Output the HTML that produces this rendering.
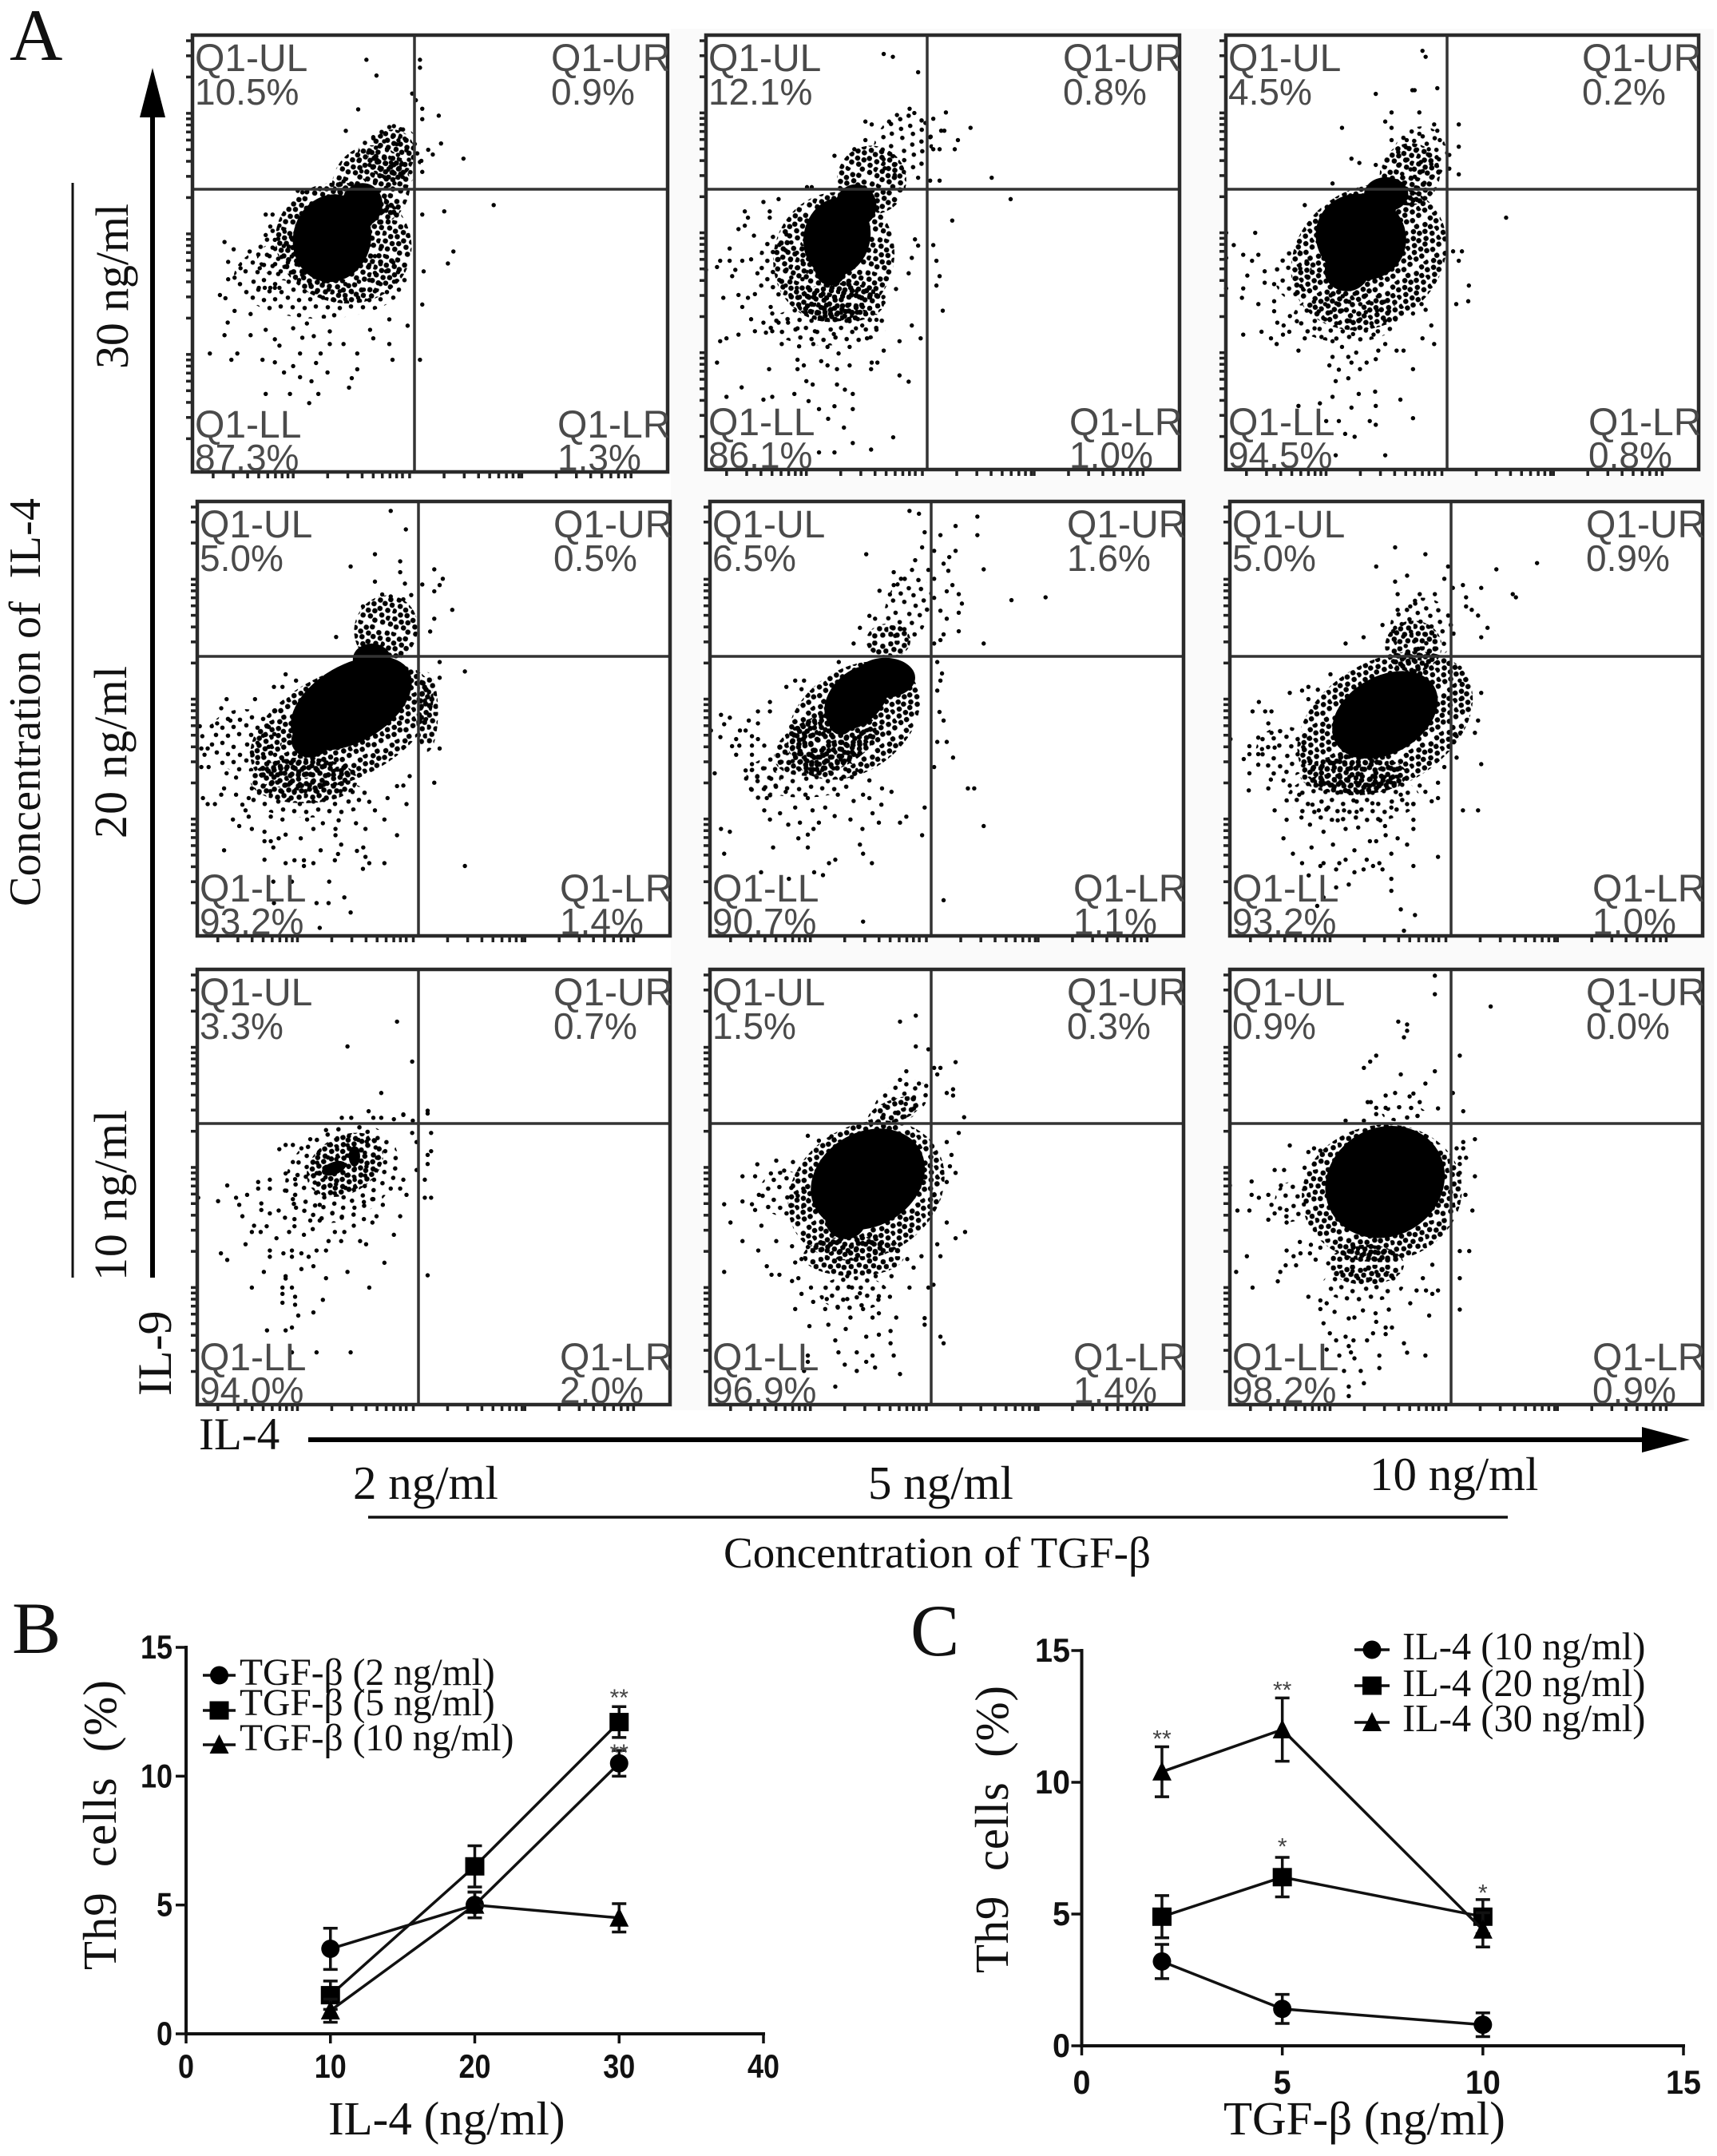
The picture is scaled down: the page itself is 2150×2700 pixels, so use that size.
<!DOCTYPE html>
<html lang="en">
<head>
<meta charset="utf-8">
<title>IL-4 and TGF-β induced Th9 cells</title>
<style>
html,body{margin:0;padding:0;background:#fff;}
svg{display:block;}
.serif{font-family:"Liberation Serif",serif;fill:#111;}
.sans{font-family:"Liberation Sans",sans-serif;}
</style>
</head>
<body>
<svg id="fig" xmlns="http://www.w3.org/2000/svg" width="2150" height="2700" viewBox="0 0 2150 2700">
<defs>
<pattern id="stipple-dense" patternUnits="userSpaceOnUse" width="44" height="44">
<g fill="#000">
<circle cx="3" cy="4" r="3.3"/><circle cx="11" cy="2" r="3.3"/><circle cx="20" cy="6" r="3.3"/><circle cx="27" cy="3" r="3.3"/><circle cx="37" cy="7" r="3.3"/>
<circle cx="7" cy="11" r="3.3"/><circle cx="15" cy="13" r="3.3"/><circle cx="25" cy="12" r="3.3"/><circle cx="32" cy="14" r="3.3"/><circle cx="41" cy="13" r="3.3"/>
<circle cx="2" cy="19" r="3.3"/><circle cx="11" cy="21" r="3.3"/><circle cx="19" cy="19" r="3.3"/><circle cx="28" cy="22" r="3.3"/><circle cx="38" cy="21" r="3.3"/>
<circle cx="6" cy="28" r="3.3"/><circle cx="15" cy="29" r="3.3"/><circle cx="23" cy="27" r="3.3"/><circle cx="33" cy="29" r="3.3"/><circle cx="42" cy="30" r="3.3"/>
<circle cx="3" cy="36" r="3.3"/><circle cx="11" cy="37" r="3.3"/><circle cx="20" cy="35" r="3.3"/><circle cx="27" cy="38" r="3.3"/><circle cx="37" cy="37" r="3.3"/>
</g>
</pattern>
<pattern id="stipple-sparse" patternUnits="userSpaceOnUse" width="44" height="44">
<g fill="#000">
<circle cx="4" cy="5" r="2.8"/><circle cx="17" cy="3" r="2.8"/><circle cx="31" cy="8" r="2.8"/>
<circle cx="10" cy="15" r="2.8"/><circle cx="24" cy="17" r="2.8"/><circle cx="39" cy="18" r="2.8"/>
<circle cx="3" cy="25" r="2.8"/><circle cx="17" cy="28" r="2.8"/><circle cx="31" cy="27" r="2.8"/>
<circle cx="9" cy="37" r="2.8"/><circle cx="24" cy="38" r="2.8"/><circle cx="38" cy="36" r="2.8"/>
</g>
</pattern>
</defs>

<rect x="0" y="0" width="2150" height="2700" fill="#ffffff"/>
<rect x="840" y="36" width="1306" height="1730" fill="#fafafa"/>

<text class="serif" x="12" y="75" font-size="92">A</text>
<text class="serif" x="15" y="2070" font-size="92">B</text>
<text class="serif" x="1140" y="2073" font-size="92">C</text>

<g id="flow-panels"></g>

<line x1="191" y1="140" x2="191" y2="1600" stroke="#000" stroke-width="6"/>
<polygon points="191,85 175,147 207,147" fill="#000"/>
<line x1="91" y1="229" x2="91" y2="1600" stroke="#111" stroke-width="3"/>

<text class="serif" transform="translate(160,462) rotate(-90)" font-size="58" textLength="207">30 ng/ml</text>
<text class="serif" transform="translate(158,1050) rotate(-90)" font-size="58" textLength="216">20 ng/ml</text>
<text class="serif" transform="translate(158,1604) rotate(-90)" font-size="58" textLength="214">10 ng/ml</text>
<text class="serif" transform="translate(50,1135) rotate(-90)" font-size="56" textLength="511" xml:space="preserve">Concentration of  IL-4</text>
<text class="serif" transform="translate(214,1748) rotate(-90)" font-size="60">IL-9</text>

<text class="serif" x="249" y="1815" font-size="57">IL-4</text>
<line x1="386" y1="1803" x2="2060" y2="1803" stroke="#000" stroke-width="6"/>
<polygon points="2116,1803 2056,1787 2056,1819" fill="#000"/>

<text class="serif" x="442" y="1877" font-size="59">2 ng/ml</text>
<text class="serif" x="1087" y="1877" font-size="59">5 ng/ml</text>
<text class="serif" x="1715" y="1866" font-size="59">10 ng/ml</text>
<line x1="461" y1="1900" x2="1888" y2="1900" stroke="#111" stroke-width="3.5"/>
<text class="serif" x="906" y="1963" font-size="55" textLength="535">Concentration of TGF-β</text>

<g id="chart-b"></g>
<g id="chart-c"></g>

<text class="serif" transform="translate(145,2467) rotate(-90)" font-size="59" textLength="363" xml:space="preserve">Th9  cells  (%)</text>
<text class="serif" x="411" y="2673" font-size="59">IL-4 (ng/ml)</text>
<text class="serif" transform="translate(1262,2471) rotate(-90)" font-size="59" textLength="360" xml:space="preserve">Th9  cells  (%)</text>
<text class="serif" x="1532" y="2673" font-size="59">TGF-β (ng/ml)</text>
</svg>

<script>
/* ===== Flow cytometry dot plots: values, in plot channel units ===== */
const pointsR1C1=[[800,190],[822,240],[917,190],[917,215],[900,297],[908,318],[922,345],[922,378],[958,367],[782,347],[755,415],[815,435],[963,455],[1012,503],[945,490],[935,475],[920,510],[922,545],[1078,650],[970,670],[922,680],[990,797],[978,835],[925,860],[922,965],[890,1032],[917,1140],[857,1140],[850,1090],[850,1012],[780,1120],[780,1170],[768,1198],[762,1228],[695,1248],[675,1277],[633,1248],[580,1248],[655,1195],[680,1208],[715,1180],[620,1180],[640,1160],[690,1150],[655,1120],[700,1120],[600,1148],[573,1140],[505,1140],[518,1120],[458,1120],[490,1062],[547,1062],[580,1045],[497,1022],[547,995],[512,985],[480,935],[492,945],[512,880],[498,885],[525,850],[498,830],[490,767],[510,790],[545,797],[567,850],[580,680],[595,680],[590,718],[610,715],[580,745],[600,760],[600,1075],[610,1095],[660,1070],[685,1065],[720,1050],[720,1090],[750,1090],[815,1072],[808,1045],[670,1025],[640,1040],[565,912],[578,912],[590,912],[600,912],[610,912],[755,520],[750,575],[860,400],[875,410],[870,445],[650,605],[660,610]];
const coresR1C1=[[725,755,85,140,15],[790,650,45,70,15]];
const denseR1C1=[[750,770,150,190,15],[810,590,85,130,20],[855,490,50,80,20]];
const sparseR1C1=[[700,880,190,130,0],[850,500,70,110,20],[630,800,70,90,0]];

const pointsR1C2=[[598,78],[627,88],[707,142],[795,283],[873,337],[833,380],[823,412],[775,412],[755,412],[755,305],[730,320],[680,270],[695,285],[640,292],[615,315],[540,315],[560,325],[780,347],[790,347],[745,370],[442,435],[505,412],[540,380],[940,512],[1000,587],[815,662],[775,522],[745,522],[707,512],[755,748],[707,750],[697,728],[765,803],[775,857],[765,890],[785,978],[687,793],[677,847],[637,902],[687,1030],[715,1075],[648,1085],[598,1118],[648,1205],[677,1227],[628,1422],[500,1442],[558,1465],[442,1475],[393,1475],[472,1388],[422,1357],[500,1323],[442,1313],[393,1323],[360,1295],[500,1270],[475,1255],[450,1237],[373,1237],[353,1225],[315,1270],[245,1280],[217,1290],[100,1280],[148,1247],[235,1183],[70,1160],[325,1150],[325,1183],[345,1170],[400,1155],[420,1170],[450,1183],[490,1170],[560,1160],[578,1160],[558,1183],[455,1128],[490,1105],[420,1105],[330,1103],[375,1095],[275,1095],[245,1050],[190,1050],[225,1055],[138,1062],[100,1075],[80,1085],[178,1008],[217,1020],[265,1020],[295,1020],[90,933],[138,923],[150,965],[168,933],[190,920],[210,890],[240,965],[245,988],[118,857],[128,835],[70,825],[35,835],[80,803],[110,803],[150,803],[178,798],[198,847],[110,760],[187,715],[138,692],[158,680],[168,652],[158,630],[237,630],[237,652],[217,597],[265,587],[355,545],[370,545],[545,1075],[575,1045],[510,1040],[440,1060],[380,1050],[325,1040],[530,1030],[490,1015],[575,1010],[597,950],[597,930]];
const coresR1C2=[[450,720,105,140,15],[510,610,65,75,0],[430,830,50,60,0]];
const denseR1C2=[[440,790,190,230,20],[560,520,110,120,30],[460,950,140,70,0]];
const sparseR1C2=[[660,400,90,120,30],[420,1030,190,70,0],[280,820,80,120,0]];

const pointsR1C3=[[660,67],[670,88],[707,198],[635,205],[628,205],[512,218],[562,283],[650,283],[542,315],[562,337],[405,337],[697,325],[775,325],[707,347],[650,358],[562,380],[610,380],[715,380],[775,403],[680,412],[705,440],[745,432],[435,445],[460,460],[512,467],[775,500],[745,480],[375,532],[287,608],[925,652],[130,705],[38,705],[62,748],[92,782],[140,782],[120,803],[38,793],[160,840],[105,855],[160,880],[190,885],[92,900],[38,900],[88,933],[140,955],[190,945],[190,980],[200,1020],[240,997],[262,1015],[220,1030],[150,1052],[92,1062],[180,1075],[198,1095],[238,1052],[218,1062],[287,1075],[267,1118],[318,1040],[340,1070],[375,1085],[405,1105],[440,1060],[505,1062],[542,1095],[520,1118],[578,1118],[600,1118],[660,1075],[697,1095],[688,1030],[630,988],[670,975],[657,955],[767,955],[805,945],[807,890],[775,803],[757,770],[785,770],[630,1183],[512,1148],[483,1160],[462,1183],[435,1160],[395,1185],[385,1225],[425,1215],[365,1170],[375,1140],[425,1140],[450,1125],[375,1280],[458,1270],[510,1262],[590,1290],[512,1312],[435,1318],[335,1303],[267,1312],[630,1355],[493,1365],[512,1378],[395,1365],[355,1365],[415,1410],[445,1420],[385,1485],[542,1485]];
const coresR1C3=[[465,720,145,150,25],[545,570,70,60,0],[420,840,70,70,0]];
const denseR1C3=[[490,790,260,240,-35],[620,500,95,110,20]];
const sparseR1C3=[[650,440,85,110,20],[420,1000,170,90,0],[250,850,60,90,0]];

const pointsR2C1=[[655,55],[703,120],[605,207],[528,250],[685,232],[685,270],[793,260],[820,293],[810,315],[605,303],[700,310],[755,313],[793,337],[850,402],[793,433],[780,478],[890,618],[810,585],[810,640],[793,1008],[810,888],[890,1300],[675,1192],[705,1083],[675,1020],[695,1018],[715,985],[635,1137],[645,1062],[605,1105],[587,1075],[575,1170],[545,1150],[490,1140],[440,1150],[410,1170],[390,1137],[312,1137],[275,1127],[205,1127],[155,1137],[175,1160],[215,1170],[255,1180],[322,1190],[300,1203],[255,1213],[275,1213],[283,1235],[370,1203],[480,1170],[480,1192],[498,1225],[433,1245],[488,1258],[478,1280],[548,1247],[568,1235],[575,1268],[587,1290],[567,1310],[635,1290],[410,1290],[380,1280],[380,1300],[350,1280],[322,1290],[255,1278],[127,1245],[460,1355],[508,1410],[458,1430],[420,1430],[528,1463],[430,1517],[283,1355],[342,1355],[285,1430],[60,1062],[75,1083],[98,1083],[118,1050],[127,1028],[165,1050],[185,1085],[195,1105],[205,1062],[215,1028],[135,715],[225,715],[118,747],[147,790],[50,810],[88,810],[105,800],[58,845],[55,888],[75,888],[65,910],[55,953],[78,953],[135,975],[165,990],[322,628],[285,672],[312,672],[355,650],[482,497],[567,390],[628,348],[655,355],[695,365],[720,350]];
const coresR2C1=[[530,730,210,135,-30],[595,575,60,55,0],[400,860,60,60,0]];
const denseR2C1=[[500,810,310,190,-25],[640,470,100,120,20],[770,760,35,140,0],[380,1000,170,80,0]];
const sparseR2C1=[[400,1060,190,70,0],[190,860,120,110,0]];

const pointsR2C2=[[667,55],[697,65],[882,75],[813,108],[715,130],[765,140],[882,140],[707,183],[745,195],[813,195],[793,217],[530,207],[685,228],[775,240],[790,265],[902,260],[617,270],[675,262],[727,262],[745,293],[640,293],[617,315],[803,315],[785,337],[823,347],[833,380],[990,368],[1098,358],[572,335],[605,348],[745,360],[765,405],[823,412],[785,433],[540,423],[558,433],[510,465],[823,477],[775,488],[765,508],[745,520],[902,520],[490,520],[755,585],[770,625],[765,650],[755,685],[443,585],[333,650],[305,650],[277,672],[325,680],[225,725],[225,758],[187,758],[70,770],[98,780],[80,803],[158,790],[187,800],[130,825],[148,825],[38,825],[68,848],[118,855],[168,845],[187,855],[128,878],[105,880],[118,910],[168,878],[207,878],[168,910],[50,975],[148,965],[168,943],[775,790],[762,760],[755,865],[785,865],[805,920],[745,953],[852,1028],[872,1028],[715,1095],[902,1160],[707,1192],[657,1127],[637,1148],[570,1148],[578,1085],[550,1115],[518,1170],[510,1225],[520,1257],[548,1290],[432,1278],[412,1290],[345,1235],[235,1235],[80,1257],[70,1170],[98,1180],[315,1203],[345,1190],[363,1170],[283,1155],[320,1148],[380,1148],[225,1137],[207,1105],[257,1115],[305,1095],[360,1105],[400,1095],[430,1125],[480,1137],[490,1072],[540,1062],[610,1040],[580,1028],[540,1000],[520,1050],[440,1050],[345,1062],[275,1040],[215,1062],[165,1030],[185,985],[365,1322],[393,1332],[197,1322],[285,1345],[775,1420],[520,1495]];
const coresR2C2=[[500,710,120,90,-45],[590,640,95,70,0],[450,790,40,50,0]];
const denseR2C2=[[490,790,230,180,-35],[600,510,70,60,0],[400,870,170,100,-20]];
const sparseR2C2=[[660,400,70,130,15],[330,980,180,80,0],[200,1010,60,60,0]];

const pointsR2C3=[[562,183],[658,207],[502,250],[600,282],[730,250],[883,260],[1012,238],[562,303],[718,293],[777,315],[745,325],[835,325],[570,347],[640,347],[688,347],[935,347],[945,358],[787,358],[570,402],[610,390],[625,370],[787,390],[805,402],[825,422],[855,465],[835,498],[522,455],[462,498],[405,520],[562,465],[767,605],[767,650],[835,693],[770,715],[777,758],[825,790],[815,833],[757,845],[757,920],[835,943],[718,953],[777,1105],[825,1105],[698,1008],[698,1062],[678,1073],[620,1083],[600,1083],[658,1040],[640,1018],[620,1138],[620,1170],[570,1203],[600,1225],[698,1268],[620,1300],[550,1257],[522,1312],[492,1300],[512,1290],[472,1278],[462,1312],[433,1322],[405,1278],[385,1290],[375,1312],[335,1290],[325,1300],[267,1290],[238,1257],[297,1235],[365,1225],[433,1245],[482,1213],[502,1213],[532,1192],[208,1203],[335,1180],[218,1138],[265,1130],[292,1155],[180,1105],[218,1070],[258,1050],[160,1028],[98,1035],[168,997],[100,975],[208,1000],[228,1018],[128,945],[82,925],[128,908],[100,908],[140,890],[100,880],[128,850],[170,833],[160,800],[40,855],[180,885],[110,758],[150,758],[170,758],[130,725],[228,693],[267,685],[287,715],[287,672],[317,682],[357,628],[550,1345],[550,1387],[415,1365],[375,1375],[288,1333],[580,1452],[625,1472],[590,1527],[315,1440],[335,1410],[445,1165],[405,1170],[380,1140],[345,1100],[400,1105],[440,1110],[515,1140],[530,1160],[580,1050],[550,1095],[490,1080],[430,1070],[300,1085],[320,1105],[350,1095]];
const coresR2C3=[[530,770,180,135,-30],[500,870,50,50,0]];
const denseR2C3=[[530,800,300,220,-30],[620,530,90,90,0],[430,980,170,70,0]];
const sparseR2C3=[[650,470,105,110,20],[430,1060,210,90,0],[210,900,90,90,0]];

const pointsR3C1=[[675,208],[518,295],[723,348],[625,458],[772,520],[772,530],[695,533],[783,598],[723,598],[737,630],[783,662],[772,675],[772,707],[737,728],[763,762],[783,825],[763,825],[705,815],[685,793],[695,762],[655,793],[685,890],[665,955],[597,912],[577,988],[558,977],[538,923],[508,945],[478,945],[498,977],[458,977],[408,935],[380,955],[333,945],[293,967],[262,925],[222,923],[215,945],[243,945],[195,988],[185,890],[175,850],[165,825],[200,815],[108,837],[45,825],[137,782],[235,770],[272,762],[235,793],[272,793],[245,845],[245,868],[272,880],[117,1020],[137,1043],[272,1010],[272,1032],[315,1020],[342,1010],[342,1032],[372,1020],[395,1032],[420,1010],[450,1010],[410,1065],[372,1075],[253,1085],[322,1100],[322,1108],[450,1107],[518,1085],[635,1053],[772,1097],[587,1140],[215,1140],[312,1140],[342,1140],[312,1162],[352,1172],[352,1200],[312,1193],[440,1183],[410,1227],[362,1238],[342,1280],[322,1290],[263,1290],[420,1367],[528,1367],[342,1367],[302,655],[322,640],[345,640],[372,652],[400,620],[322,740],[345,700],[450,588],[500,545],[530,545],[585,522],[600,545],[625,545],[665,550],[695,535],[725,555],[352,760],[320,800],[345,830],[355,860],[300,870],[320,895],[350,900],[350,925],[400,905],[430,905],[470,880],[500,895],[540,860],[570,840],[600,830],[630,850],[570,900],[610,890],[430,850]];
const coresR3C1=[[475,722,40,22,-20],[540,680,18,36,0]];
const denseR3C1=[[510,710,130,100,-30]];
const sparseR3C1=[[500,740,190,160,-30]];

const pointsR3C2=[[687,187],[637,208],[687,295],[727,305],[813,350],[745,370],[765,370],[755,393],[657,382],[637,412],[805,445],[785,458],[805,467],[697,425],[720,433],[840,543],[823,598],[785,630],[800,675],[785,770],[813,738],[795,715],[785,912],[843,945],[813,967],[755,988],[765,1030],[743,1130],[727,1140],[667,1140],[715,1247],[715,1270],[765,1312],[775,1335],[637,1443],[617,1378],[607,1335],[607,1292],[570,1305],[530,1312],[550,1378],[530,1400],[500,1367],[558,1420],[500,1432],[462,1410],[442,1367],[432,1325],[432,1487],[345,1400],[345,1378],[333,1432],[350,1275],[410,1270],[305,1215],[362,1190],[325,1162],[405,1180],[400,1215],[440,1210],[470,1180],[480,1245],[465,1285],[520,1215],[550,1245],[570,1230],[625,1245],[605,1172],[570,1170],[510,1160],[440,1140],[485,1140],[355,1140],[295,1117],[315,1107],[230,1095],[255,1095],[215,1065],[305,1052],[325,1040],[80,1085],[188,1010],[138,977],[245,977],[295,995],[345,998],[198,923],[100,912],[80,848],[138,838],[178,868],[168,848],[190,815],[138,750],[178,750],[185,708],[228,740],[245,695],[270,730],[298,700],[345,608],[380,625],[420,610],[660,1040],[680,1070],[705,1030],[470,1100],[560,1100],[610,1100]];
const coresR3C2=[[535,760,190,165,-30],[465,900,65,70,0]];
const denseR3C2=[[530,800,260,230,-30],[490,1030,160,70,0],[620,520,90,40,-20]];
const sparseR3C2=[[640,490,95,65,-30],[270,810,80,80,0],[490,1160,110,60,0]];

const pointsR3C3=[[688,47],[688,112],[865,155],[572,208],[600,218],[600,240],[590,263],[767,327],[502,327],[483,348],[463,370],[580,393],[688,382],[658,425],[745,458],[562,458],[532,467],[620,460],[608,470],[475,490],[485,490],[640,490],[502,510],[502,532],[532,510],[698,512],[778,522],[405,555],[463,555],[815,620],[778,630],[757,652],[778,652],[767,685],[787,685],[767,707],[228,642],[287,665],[305,652],[325,660],[815,750],[767,738],[180,728],[210,728],[275,720],[107,768],[38,782],[200,782],[107,815],[130,825],[160,815],[170,850],[62,870],[100,870],[180,880],[160,902],[218,868],[218,912],[807,870],[785,815],[767,1012],[797,1012],[767,1107],[767,1217],[670,1238],[610,1195],[698,1150],[680,1162],[660,1150],[630,1150],[650,1107],[680,1060],[542,1217],[500,1230],[502,1260],[492,1300],[532,1280],[552,1280],[532,1303],[590,1335],[600,1368],[658,1378],[512,1378],[512,1422],[453,1432],[400,1432],[433,1388],[422,1367],[415,1345],[405,1312],[430,1325],[473,1325],[375,1325],[355,1300],[335,1265],[345,1357],[385,1378],[463,1475],[415,1487],[415,1520],[433,1245],[415,1248],[460,1220],[325,1185],[345,1195],[325,1215],[370,1225],[287,1172],[110,1140],[190,1118],[198,1085],[58,1085],[92,1030],[218,1010],[240,1030],[262,1020],[292,1020],[310,1042],[350,1055],[215,1062],[248,1062],[260,980],[295,990],[325,1000]];
const coresR3C3=[[530,770,195,190,-30]];
const denseR3C3=[[520,810,255,240,-10],[470,1060,120,70,0]];
const sparseR3C3=[[460,1130,130,60,0],[590,530,70,30,0],[230,840,50,70,0]];

const labelsUL=["10.5%","12.1%","4.5%","5.0%","6.5%","5.0%","3.3%","1.5%","0.9%"];
const labelsUR=["0.9%","0.8%","0.2%","0.5%","1.6%","0.9%","0.7%","0.3%","0.0%"];
const labelsLL=["87.3%","86.1%","94.5%","93.2%","90.7%","93.2%","94.0%","96.9%","98.2%"];
const labelsLR=["1.3%","1.0%","0.8%","1.4%","1.1%","1.0%","2.0%","1.4%","0.9%"];
const gateNames=["Q1-UL","Q1-UR","Q1-LL","Q1-LR"];

const panelPoints=[pointsR1C1,pointsR1C2,pointsR1C3,pointsR2C1,pointsR2C2,pointsR2C3,pointsR3C1,pointsR3C2,pointsR3C3];
const panelCores=[coresR1C1,coresR1C2,coresR1C3,coresR2C1,coresR2C2,coresR2C3,coresR3C1,coresR3C2,coresR3C3];
const panelDense=[denseR1C1,denseR1C2,denseR1C3,denseR2C1,denseR2C2,denseR2C3,denseR3C1,denseR3C2,denseR3C3];
const panelSparse=[sparseR1C1,sparseR1C2,sparseR1C3,sparseR2C1,sparseR2C2,sparseR2C3,sparseR3C1,sparseR3C2,sparseR3C3];

/* ===== Chart B values ===== */
const bDoses=[10,20,30];
const bTgf2=[3.3,5.0,10.5];
const bTgf2Err=[0.8,0.5,0.5];
const bTgf5=[1.5,6.5,12.1];
const bTgf5Err=[0.55,0.8,0.6];
const bTgf10=[0.9,5.0,4.5];
const bTgf10Err=[0.45,0.5,0.55];
const bXTicks=[0,10,20,30,40];
const bYTicks=[0,5,10,15];
const bLegend=["TGF-β (2 ng/ml)","TGF-β (5 ng/ml)","TGF-β (10 ng/ml)"];
const bStarX=[30,30];
const bStarY=[13.3,11.15];
const bStarText=["**","**"];

/* ===== Chart C values ===== */
const cDoses=[2,5,10];
const cIl10=[3.2,1.4,0.8];
const cIl10Err=[0.65,0.55,0.45];
const cIl20=[4.9,6.4,4.9];
const cIl20Err=[0.8,0.75,0.65];
const cIl30=[10.4,12.0,4.4];
const cIl30Err=[0.95,1.2,0.65];
const cXTicks=[0,5,10,15];
const cYTicks=[0,5,10,15];
const cLegend=["IL-4 (10 ng/ml)","IL-4 (20 ng/ml)","IL-4 (30 ng/ml)"];
const cStarX=[2,5,5,10];
const cStarY=[11.9,13.75,7.8,6.05];
const cStarText=["**","**","*","*"];

const NS="http://www.w3.org/2000/svg";
function mk(parent,tag,attrs,text){
  const el=document.createElementNS(NS,tag);
  for(const k in attrs){el.setAttribute(k,attrs[k]);}
  if(text!==undefined){el.textContent=text;}
  parent.appendChild(el);
  return el;
}

/* ---- flow panels ---- */
const frames=[
 {x0:241,x1:836,y0:44,y1:591,gx:519,gy:237,dx:[420,1458],dy:[112,1495]},
 {x0:884,x1:1477,y0:44,y1:588,gx:1161,gy:237,dx:[35,1535],dy:[12,1535]},
 {x0:1535,x1:2127,y0:44,y1:588,gx:1812,gy:237,dx:[37,1535],dy:[12,1535]},
 {x0:247,x1:839,y0:628,y1:1172,gx:524,gy:822,dx:[42,1540],dy:[22,1545]},
 {x0:889,x1:1482,y0:628,y1:1172,gx:1166,gy:822,dx:[35,1535],dy:[22,1545]},
 {x0:1540,x1:2132,y0:628,y1:1172,gx:1817,gy:822,dx:[38,1537],dy:[22,1545]},
 {x0:247,x1:839,y0:1214,y1:1759,gx:524,gy:1407,dx:[42,1540],dy:[25,1550]},
 {x0:889,x1:1482,y0:1214,y1:1759,gx:1166,gy:1407,dx:[35,1535],dy:[25,1550]},
 {x0:1540,x1:2132,y0:1214,y1:1759,gx:1817,gy:1407,dx:[38,1537],dy:[25,1550]}
];
const minorLogs=[1,2,3,4,5,6,7,8,9];
const yDecadeTops=[-0.097,0.179,0.455,0.731];
const yDecadeLen=0.276;
const xDecadeEnds=[0.212,0.453,0.698,0.934];
const xDecadeLen=0.241;
const flowRoot=document.getElementById('flow-panels');

frames.forEach(function(f,i){
  const sx=function(v){return f.x0+(v-f.dx[0])/(f.dx[1]-f.dx[0])*(f.x1-f.x0);};
  const sy=function(v){return f.y0+(v-f.dy[0])/(f.dy[1]-f.dy[0])*(f.y1-f.y0);};
  const kx=(f.x1-f.x0)/(f.dx[1]-f.dx[0]);
  const ky=(f.y1-f.y0)/(f.dy[1]-f.dy[0]);
  const g=mk(flowRoot,'g',{});
  
  
  const bg=mk(g,'rect',{x:f.x0,y:f.y0,width:f.x1-f.x0,height:f.y1-f.y0,fill:'#fff'});
  
  

  function blobs(list,fill,nm){
    list.forEach(function(b){
      const e=mk(g,'ellipse',{cx:0,cy:0,rx:b[2]*kx,ry:b[3]*ky,fill:fill,
        transform:'translate('+sx(b[0])+','+sy(b[1])+') rotate('+b[4]+')'});
      
      
    });
  }
  blobs(panelSparse[i],'url(#stipple-sparse)','sparse-event-region');
  blobs(panelDense[i],'url(#stipple-dense)','dense-event-region');
  blobs(panelCores[i],'#000','saturated-event-core');

  panelPoints[i].forEach(function(p){
    const c=mk(g,'circle',{cx:sx(p[0]),cy:sy(p[1]),r:2.7,fill:'#000'});
    
    
  });

  const w=f.x1-f.x0,h=f.y1-f.y0;
  yDecadeTops.forEach(function(top){
    minorLogs.forEach(function(k){
      const yy=f.y0+h*(top+yDecadeLen*(1-Math.log10(k)));
      if(yy<f.y0||yy>f.y1){return;}
      const t=mk(g,'line',{x1:f.x0-8,x2:f.x0,y1:yy,y2:yy,stroke:'#222','stroke-width':3.5});
      
      
    });
  });
  xDecadeEnds.forEach(function(end){
    minorLogs.forEach(function(k){
      const xx=f.x0+w*(end-xDecadeLen*(1-Math.log10(k)));
      if(xx<f.x0||xx>f.x1){return;}
      const t=mk(g,'line',{x1:xx,x2:xx,y1:f.y1,y2:f.y1+8,stroke:'#222','stroke-width':3.5});
      
      
    });
  });

  const gv=mk(g,'line',{x1:f.gx,x2:f.gx,y1:f.y0,y2:f.y1,stroke:'#333','stroke-width':3.5});
  
  
  const gh=mk(g,'line',{x1:f.x0,x2:f.x1,y1:f.gy,y2:f.gy,stroke:'#333','stroke-width':3.5});
  
  
  const fr=mk(g,'rect',{x:f.x0,y:f.y0,width:w,height:h,fill:'none',stroke:'#2a2a2a','stroke-width':4.5});
  
  

  const leftX=f.x0+3,urX=f.x1-146,lrX=f.x1-138;
  const rows=[
    [gateNames[0],leftX,f.y0+45,48],[labelsUL[i],leftX,f.y0+87,46],
    [gateNames[1],urX,f.y0+45,48],[labelsUR[i],urX,f.y0+87,46],
    [gateNames[2],leftX,f.y1-43,48],[labelsLL[i],leftX,f.y1-2,46],
    [gateNames[3],lrX,f.y1-43,48],[labelsLR[i],lrX,f.y1-2,46]
  ];
  rows.forEach(function(r){
    const t=mk(g,'text',{x:r[1],y:r[2],'font-size':r[3],fill:'#4a4a4a','class':'sans'},r[0]);
    
    
  });
});

/* ---- line charts ---- */
function drawMarker(g,kind,x,y){
  let m;
  if(kind==='circle'){
    m=mk(g,'circle',{cx:x,cy:y,r:11.5,fill:'#000'});
  }else if(kind==='square'){
    m=mk(g,'rect',{x:x-12,y:y-11.5,width:24,height:23,fill:'#000'});
  }else{
    m=mk(g,'polygon',{points:(x-12)+','+(y+11)+' '+(x+12)+','+(y+11)+' '+x+','+(y-13),fill:'#000'});
  }
  
  
}

function drawChart(cfg){
  const root=document.getElementById(cfg.id);
  const sx=function(v){return cfg.x0+(v-cfg.xMin)/(cfg.xMax-cfg.xMin)*(cfg.x1-cfg.x0);};
  const sy=function(v){return cfg.y0-(v-cfg.yMin)/(cfg.yMax-cfg.yMin)*(cfg.y0-cfg.y1);};

  const ax=mk(root,'line',{x1:sx(cfg.xMin)-2,x2:sx(cfg.xMax)+2,y1:cfg.y0,y2:cfg.y0,stroke:'#111','stroke-width':4});
  
  
  const ay=mk(root,'line',{x1:cfg.x0,x2:cfg.x0,y1:sy(cfg.yMax)-2,y2:cfg.y0+2,stroke:'#111','stroke-width':4});
  
  

  function tickAttrs(extra,str){
    const a={'font-size':42,'font-weight':'bold','class':'sans',fill:'#111',textLength:str.length*cfg.digitW,lengthAdjust:'spacingAndGlyphs'};
    for(const k in extra){a[k]=extra[k];}
    return a;
  }
  cfg.xTicks.forEach(function(v){
    const t=mk(root,'line',{x1:sx(v),x2:sx(v),y1:cfg.y0,y2:cfg.y0+12,stroke:'#111','stroke-width':3.5});
    
    
    const l=mk(root,'text',tickAttrs({x:sx(v),y:cfg.xLabelY,'text-anchor':'middle'},String(v)),String(v));
    
    
  });
  cfg.yTicks.forEach(function(v){
    const t=mk(root,'line',{x1:cfg.x0-13,x2:cfg.x0,y1:sy(v),y2:sy(v),stroke:'#111','stroke-width':3.5});
    
    
    const l=mk(root,'text',tickAttrs({x:cfg.yLabelX,y:sy(v)+14,'text-anchor':'end'},String(v)),String(v));
    
    
  });

  cfg.series.forEach(function(s){
    const g=mk(root,'g',{});
    
    
    const pts=cfg.xs.map(function(x,i){return sx(x)+','+sy(s.values[i]);}).join(' ');
    const pl=mk(g,'polyline',{points:pts,fill:'none',stroke:'#111','stroke-width':3.5});
    
    
    cfg.xs.forEach(function(x,i){
      const px=sx(x),hi=sy(s.values[i]+s.errors[i]),lo=sy(s.values[i]-s.errors[i]);
      const e=mk(g,'path',{d:'M'+px+' '+lo+'V'+hi+'M'+(px-9)+' '+hi+'H'+(px+9)+'M'+(px-9)+' '+lo+'H'+(px+9),fill:'none',stroke:'#111','stroke-width':3.5});
      
      
      drawMarker(g,s.kind,px,sy(s.values[i]));
    });
  });

  cfg.stars.x.forEach(function(x,i){
    const st=mk(root,'text',{x:sx(x),y:sy(cfg.stars.y[i])+18,'text-anchor':'middle','font-size':30,'class':'sans',fill:'#444'},cfg.stars.text[i]);
    
    
  });

  cfg.legend.labels.forEach(function(lab,i){
    const g=mk(root,'g',{});
    
    
    const cy=cfg.legend.markerY[i];
    const ln=mk(g,'line',{x1:cfg.legend.lineX[0],x2:cfg.legend.lineX[1],y1:cy,y2:cy,stroke:'#111','stroke-width':3.5});
    
    
    drawMarker(g,cfg.series[i].kind,(cfg.legend.lineX[0]+cfg.legend.lineX[1])/2,cy);
    const t=mk(g,'text',{x:cfg.legend.textX,y:cfg.legend.textY[i],'font-size':cfg.legend.size,'class':'serif'},lab);
    
    
  });
}

drawChart({
  id:'chart-b',x0:233,x1:956,y0:2547,y1:2063,xMin:0,xMax:40,yMin:0,yMax:15,digitW:20,
  xLabelY:2602,yLabelX:216,xs:bDoses,xTicks:bXTicks,yTicks:bYTicks,
  series:[{kind:'circle',values:bTgf2,errors:bTgf2Err},{kind:'square',values:bTgf5,errors:bTgf5Err},{kind:'triangle',values:bTgf10,errors:bTgf10Err}],
  stars:{x:bStarX,y:bStarY,text:bStarText},
  legend:{labels:bLegend,lineX:[254,295],markerY:[2098,2142,2185],textX:300,textY:[2110,2148,2192],size:47.5}
});
drawChart({
  id:'chart-c',x0:1354.5,x1:2108,y0:2562,y1:2067,xMin:0,xMax:15,yMin:0,yMax:15,digitW:22,
  xLabelY:2622,yLabelX:1340,xs:cDoses,xTicks:cXTicks,yTicks:cYTicks,
  series:[{kind:'circle',values:cIl10,errors:cIl10Err},{kind:'square',values:cIl20,errors:cIl20Err},{kind:'triangle',values:cIl30,errors:cIl30Err}],
  stars:{x:cStarX,y:cStarY,text:cStarText},
  legend:{labels:cLegend,lineX:[1696,1740],markerY:[2066,2111,2157],textX:1756,textY:[2078,2124,2168],size:48.5}
});
</script>
</body>
</html>
